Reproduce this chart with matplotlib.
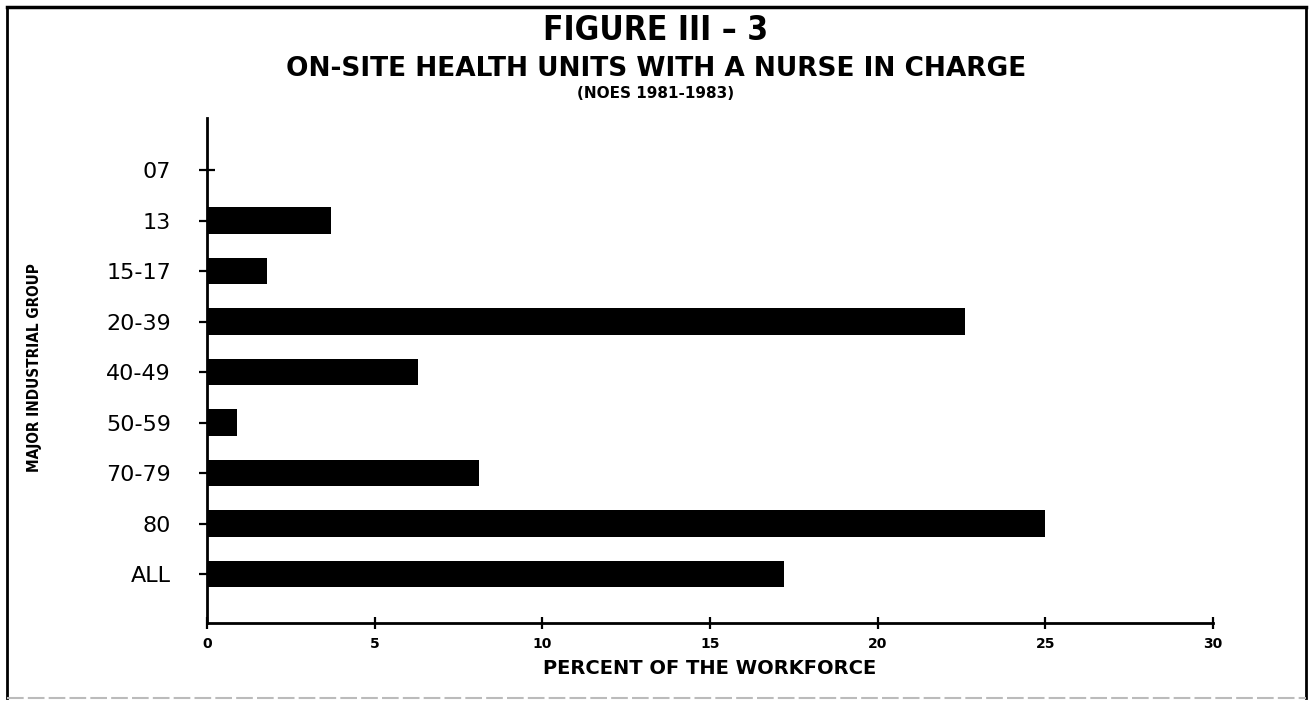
import matplotlib
matplotlib.use("Agg")
import matplotlib.pyplot as plt
from matplotlib.lines import Line2D

categories = ["07", "13", "15-17", "20-39", "40-49", "50-59", "70-79", "80", "ALL"]
values = [0.0, 3.7, 1.8, 22.6, 6.3, 0.9, 8.1, 25.0, 17.2]
xticks = [0, 5, 10, 15, 20, 25, 30]

plt.rcParams['font.family'] = ['DejaVu Sans']

fig = plt.figure(figsize=(13.12, 7.01), dpi=100)
ax = fig.add_axes([207/1312, 1-623/701, (1213-207)/1312, (623-118)/701])

y = list(range(len(categories)))
ax.barh(y, values, height=0.52, color='black', align='center')
ax.set_ylim(8.97, -1.03)
ax.set_xlim(0, 30)
ax.set_yticks(y)
ax.set_yticklabels(categories, fontsize=16, fontweight='normal')
ax.set_xticks(xticks)
ax.set_xticklabels([str(t) for t in xticks], fontsize=10, fontweight='bold')
for s in ['top', 'right']:
    ax.spines[s].set_visible(False)
for s in ['left', 'bottom']:
    ax.spines[s].set_linewidth(2.0)
ax.tick_params(axis='y', direction='inout', length=12, width=1.6, pad=20)
ax.tick_params(axis='x', direction='inout', length=8, width=1.6, pad=6)

ax.set_xlabel("PERCENT OF THE WORKFORCE", fontsize=14, fontweight='heavy', labelpad=6)

fig.text(35/1312, 1-368/701, "MAJOR INDUSTRIAL GROUP", rotation=90, ha='center', va='center',
         fontsize=11, fontweight='bold', fontstretch='condensed')

fig.text(0.5, 1-30/701, "FIGURE III \u2013 3", ha='center', va='center', fontsize=24,
         fontweight='bold', fontstretch='condensed')
fig.text(0.5, 1-69/701, "ON-SITE HEALTH UNITS WITH A NURSE IN CHARGE", ha='center', va='center',
         fontsize=19, fontweight='heavy')
fig.text(0.5, 1-93/701, "(NOES 1981-1983)", ha='center', va='center', fontsize=11, fontweight='bold')

# frame
L, R, T, B = 7/1312, 1306/1312, 1-7/701, 1-698/701
fig.add_artist(Line2D([L, L], [B, T], color='black', lw=2.0, transform=fig.transFigure))
fig.add_artist(Line2D([R, R], [B, T], color='black', lw=2.0, transform=fig.transFigure))
fig.add_artist(Line2D([L, R], [T, T], color='black', lw=2.5, transform=fig.transFigure))
fig.add_artist(Line2D([L, R], [B, B], color='#bbbbbb', lw=1.5, ls=(0, (8, 2)), transform=fig.transFigure))

fig.savefig("out.png", dpi=100)
